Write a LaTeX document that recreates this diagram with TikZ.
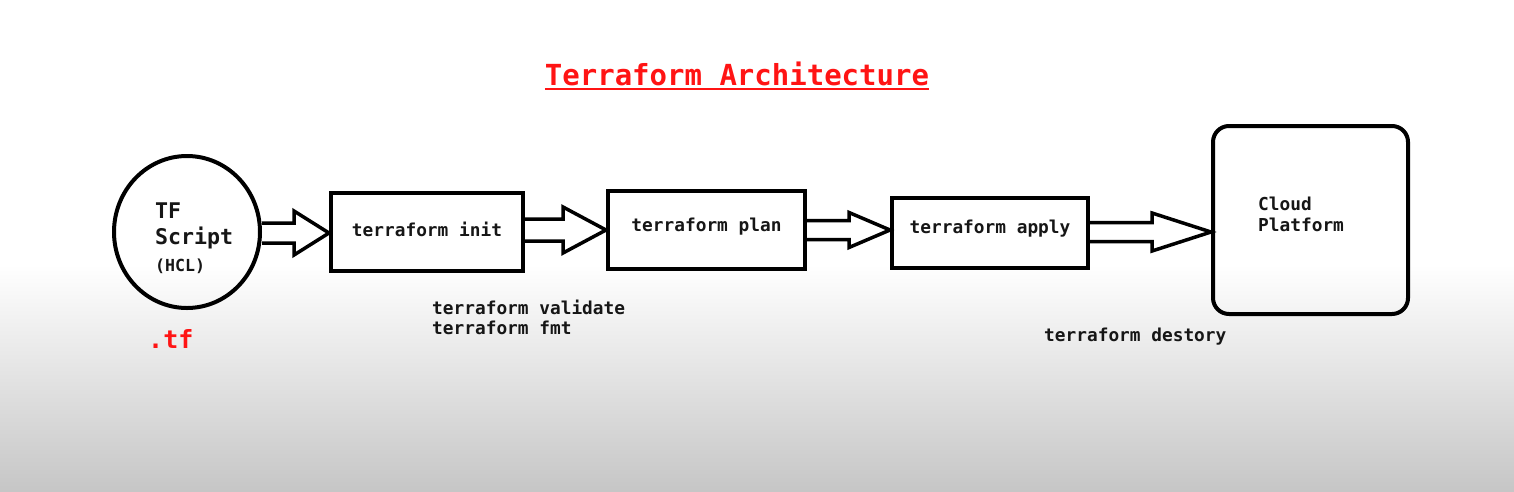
\documentclass[tikz,border=0pt]{standalone}
\usepackage{fontspec}
\setmonofont{DejaVu Sans Mono}
\usetikzlibrary{calc,shapes.geometric}
\definecolor{tfred}{RGB}{255,20,20}
\definecolor{ink}{RGB}{22,22,22}
\definecolor{bgbot}{RGB}{198,198,198}
% block arrow: #1 start, #2 tip, #3 shaft half width, #4 head half width, #5 head length
\newcommand\blockarrow[5]{%
  \draw[blockarr] let \p1=(#1), \p2=(#2) in
    (\x1,\y2+#3) -- (\x2-#5,\y2+#3) -- (\x2-#5,\y2+#4) -- (\x2,\y2)
    -- (\x2-#5,\y2-#4) -- (\x2-#5,\y2-#3) -- (\x1,\y2-#3);
}
\begin{document}
\begin{tikzpicture}[x=1pt,y=-1pt,
  box/.style={draw=black, line width=4pt, rectangle, inner sep=0pt,
    font=\ttfamily\bfseries\fontsize{17.8}{20}\selectfont, text=ink,
    text height=13pt},
  blockarr/.style={draw=black, line width=3.5pt, line join=miter, miter limit=10},
  lbl/.style={inner sep=0pt, anchor=base west, text=ink,
    font=\ttfamily\bfseries\fontsize{17.8}{20}\selectfont},
  circlbl/.style={inner sep=0pt, anchor=base west, text=ink,
    font=\ttfamily\bfseries\fontsize{21.6}{26}\selectfont}]
\useasboundingbox (0,0) rectangle (1514,491);
\fill[white] (0,0) rectangle (1514,491);
\shade[top color=white, bottom color=bgbot] (0,265) rectangle (1514,491);

% title
\node[inner sep=0pt, anchor=base, text=tfred,
  font=\ttfamily\bfseries\fontsize{29}{32}\selectfont] (title) at (737,85) {Terraform Architecture};
\draw[tfred, line width=2pt] ([yshift=-3.5pt]title.base west) -- ([yshift=-3.5pt]title.base east);

% TF script circle
\node[ellipse, draw=black, line width=4pt, minimum width=146pt, minimum height=152pt, inner sep=0pt] (circ) at (187,232) {};
\node[circlbl] (tf) at (155,218) {TF};
\node[circlbl] (script) at (155,244) {Script};
\node[circlbl, font=\ttfamily\bfseries\fontsize{16.6}{20}\selectfont] (hcl) at (155,271) {(HCL)};
\node[inner sep=0pt, anchor=base west, text=tfred,
  font=\ttfamily\bfseries\fontsize{25}{28}\selectfont] (ext) at (148,348) {.tf};

% boxes
\node[box, minimum width=192pt, minimum height=78pt, text depth=4pt] (init) at (427,232) {terraform init};
\node[box, minimum width=197pt, minimum height=78pt, text depth=10pt] (plan) at (706.5,230) {terraform plan};
\node[box, minimum width=196pt, minimum height=70pt, text depth=13pt] (apply) at (990,233) {terraform apply};
\node[draw=black, line width=4pt, rectangle, rounded corners=16pt,
  minimum width=195pt, minimum height=188pt] (cloud) at (1310.5,220) {};
\node[lbl] (cloudl1) at (1258,210) {Cloud};
\node[lbl] (cloudl2) at (1258,231) {Platform};

% arrows
\blockarrow{circ.east}{init.west |- 0,233}{10pt}{22pt}{35pt}
\blockarrow{init.east}{plan.west |- 0,230}{11pt}{23pt}{43pt}
\blockarrow{plan.east}{apply.west |- 0,230}{9.5pt}{17.5pt}{41pt}
\blockarrow{apply.east}{cloud.west |- 0,232}{9.5pt}{19pt}{59pt}

% command labels
\node[lbl] (validate) at (432,314) {terraform validate};
\node[lbl] (fmt) at (432,334) {terraform fmt};
\node[lbl] (destroy) at (1044,341) {terraform destory};
\end{tikzpicture}
\end{document}
